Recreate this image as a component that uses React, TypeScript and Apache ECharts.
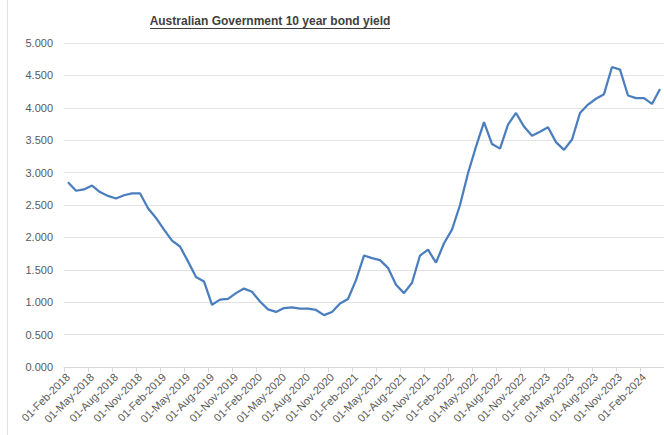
import React, { useEffect, useRef } from "react";
import * as echarts from "echarts";

const titleText = "Australian Government 10 year bond yield";
const monthNames = ["Jan", "Feb", "Mar", "Apr", "May", "Jun", "Jul", "Aug", "Sep", "Oct", "Nov", "Dec"];
const startYear = 2018;
const startMonth = 1; // Feb (0-based)

// Monthly yields (%), Feb-2018 .. Apr-2024
const yields = [
  2.85, 2.72, 2.74, 2.8, 2.7, 2.64, 2.6, 2.65, 2.68, 2.68,
  2.45, 2.3, 2.12, 1.95, 1.86, 1.63, 1.39, 1.32, 0.96, 1.04,
  1.05, 1.14, 1.21, 1.16, 1.01, 0.89, 0.85, 0.91, 0.92, 0.9,
  0.9, 0.88, 0.8, 0.85, 0.98, 1.05, 1.34, 1.72, 1.68, 1.65,
  1.53, 1.27, 1.14, 1.3, 1.72, 1.81, 1.61, 1.91, 2.12, 2.5,
  2.99, 3.4, 3.78, 3.44, 3.37, 3.74, 3.92, 3.71, 3.57, 3.63,
  3.7, 3.47, 3.35, 3.51, 3.92, 4.05, 4.14, 4.21, 4.63, 4.59,
  4.19, 4.15, 4.15, 4.06, 4.29,
];

const categories: string[] = yields.map((_, i) => {
  const m = startMonth + i;
  const y = startYear + Math.floor(m / 12);
  return `01-${monthNames[m % 12]}-${y}`;
});

export default function App() {
  const ref = useRef<HTMLDivElement>(null);
  useEffect(() => {
    document.body.style.margin = "0";
    const chart = echarts.init(ref.current!, undefined, { renderer: "svg" });
    chart.setOption({
      animation: false,
      backgroundColor: "#ffffff",
      textStyle: { fontFamily: "Liberation Sans, Arial, sans-serif" },
      grid: { left: 64, right: 0, top: 43, bottom: 68, containLabel: false },
      graphic: [
        {
          type: "line",
          shape: { x1: 7.5, y1: 0, x2: 7.5, y2: 435 },
          style: { stroke: "#e2e2e2", lineWidth: 1 },
          silent: true,
        },
        {
          type: "text",
          x: 270,
          y: 15,
          style: {
            text: titleText,
            fill: "#404040",
            font: "bold 12px 'Liberation Sans', Arial, sans-serif",
            textAlign: "center",
            textVerticalAlign: "top",
          },
        },
        {
          type: "line",
          shape: { x1: 150, y1: 28.5, x2: 390, y2: 28.5 },
          style: { stroke: "#404040", lineWidth: 1 },
        },
      ],
      xAxis: {
        type: "category",
        data: categories,
        boundaryGap: true,
        axisLine: { show: true, lineStyle: { color: "#d9d9d9", width: 1 } },
        axisTick: { show: true, interval: 2, length: 5, lineStyle: { color: "#d9d9d9" } },
        axisLabel: {
          interval: 2,
          rotate: 45,
          fontSize: 11,
          color: "#595959",
          margin: 8,
          fontFamily: "Liberation Sans, Arial, sans-serif",
        },
        splitLine: { show: false },
      },
      yAxis: {
        type: "value",
        min: 0,
        max: 5,
        interval: 0.5,
        axisLine: { show: false },
        axisTick: { show: false },
        axisLabel: {
          fontSize: 11,
          color: "#595959",
          margin: 11,
          formatter: (v: number) => v.toFixed(3),
          fontFamily: "Liberation Sans, Arial, sans-serif",
        },
        splitLine: { lineStyle: { color: "#e3e3e3", width: 1 } },
      },
      series: [
        {
          type: "line",
          data: yields,
          showSymbol: false,
          symbol: "none",
          lineStyle: { color: "#4a7ebf", width: 2.25 },
          itemStyle: { color: "#4a7ebf" },
        },
      ],
    });
    return () => chart.dispose();
  }, []);
  return <div ref={ref} style={{ width: 664, height: 435 }} />;
}
